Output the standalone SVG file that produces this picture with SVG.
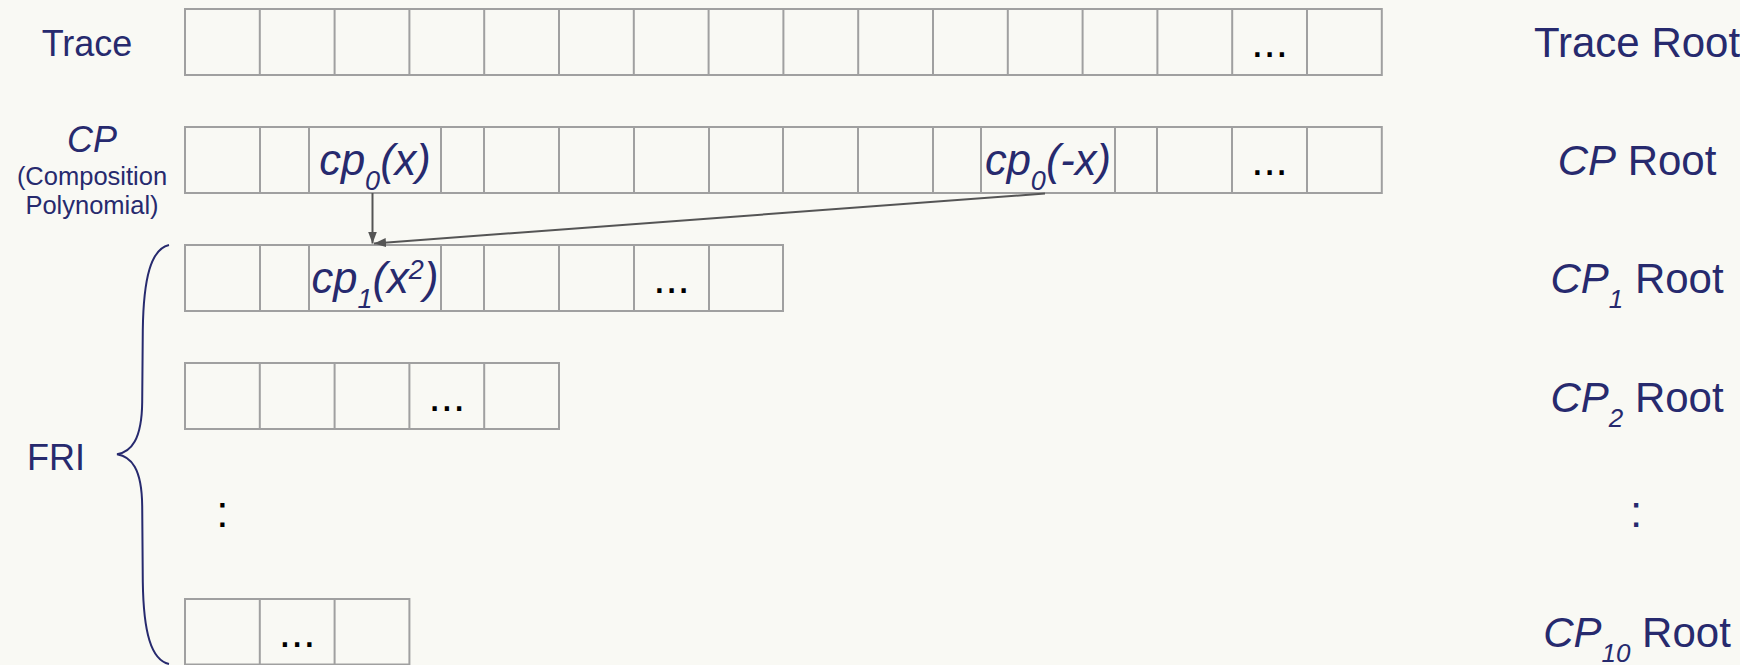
<svg xmlns="http://www.w3.org/2000/svg" width="1740" height="665" viewBox="0 0 1740 665">
  <defs>
    <style>
      .bg { fill: #f9f9f4; }
      .cell { fill: none; stroke: #a0a0a0; stroke-width: 2; }
      .lbl { font-family: "Liberation Sans", Arial, sans-serif; fill: #272a6e; }
      .dots { font-family: "Liberation Sans", Arial, sans-serif; fill: #000; font-size: 44px; text-anchor: middle; }
      .colon { font-family: "Liberation Sans", Arial, sans-serif; font-size: 44px; text-anchor: middle; }
      .it { font-style: italic; }
      .big { font-size: 42px; text-anchor: middle; }
      .cl { font-size: 43.5px; text-anchor: middle; font-style: italic; }
      .mid { font-size: 36px; text-anchor: middle; }
      .small { font-size: 25.5px; text-anchor: middle; }
      .conn { fill: none; stroke: #555555; stroke-width: 2; }
      .brace { fill: none; stroke: #272a6e; stroke-width: 2; }
    </style>
    <marker id="arrow" markerUnits="userSpaceOnUse" markerWidth="14" markerHeight="10" refX="12" refY="4.5" orient="auto">
      <path d="M0,0 L12,4.5 L0,9 z" fill="#555555"/>
    </marker>
  </defs>
  <rect class="bg" x="0" y="0" width="1740" height="665"/>

  <!-- Left labels -->
  <g id="label-trace">
    <text class="lbl mid" x="87" y="56">Trace</text>
  </g>
  <g id="label-cp">
    <text class="lbl mid it" x="92" y="152">CP</text>
    <text class="lbl small" x="92" y="185">(Composition</text>
    <text class="lbl small" x="92" y="214">Polynomial)</text>
  </g>
  <g id="label-fri">
    <text class="lbl mid" x="56" y="470">FRI</text>
    <path class="brace" d="M169,245 C151,249 143.5,278 142.8,330 L142.2,402 C141.8,440 131,452 117,454.3 C131,456.6 141.8,468 142.2,506 L142.8,582 C143.5,632 151,660 169,664"/>
  </g>

  <!-- Trace row -->
  <g id="row-trace">
    <rect class="cell" x="185" y="9" width="1196.8" height="66"/>
    <path class="cell" d="M259.8,9V75 M334.6,9V75 M409.4,9V75 M484.2,9V75 M559,9V75 M633.8,9V75 M708.6,9V75 M783.4,9V75 M858.2,9V75 M933,9V75 M1007.8,9V75 M1082.6,9V75 M1157.4,9V75 M1232.2,9V75 M1307,9V75"/>
    <text class="dots" x="1269.6" y="57">...</text>
  </g>

  <!-- CP row -->
  <g id="row-cp">
    <rect class="cell" x="185" y="127" width="1196.8" height="66"/>
    <path class="cell" d="M260,127V193 M309,127V193 M441,127V193 M484,127V193 M559,127V193 M634,127V193 M709,127V193 M783,127V193 M858,127V193 M933,127V193 M981,127V193 M1115,127V193 M1157,127V193 M1232,127V193 M1307,127V193"/>
    <text class="lbl cl" x="375" y="175">cp<tspan font-size="27" dy="15">0</tspan><tspan dy="-15">(x)</tspan></text>
    <text class="lbl cl" x="1048" y="175">cp<tspan font-size="27" dy="15">0</tspan><tspan dy="-15">(-x)</tspan></text>
    <text class="dots" x="1269.5" y="175">...</text>
  </g>

  <!-- CP1 row -->
  <g id="row-cp1">
    <rect class="cell" x="185" y="245" width="598" height="66"/>
    <path class="cell" d="M260,245V311 M309,245V311 M441,245V311 M484,245V311 M559,245V311 M634,245V311 M709,245V311"/>
    <text class="lbl cl" x="375" y="293">cp<tspan font-size="27" dy="15">1</tspan><tspan dy="-15">(x</tspan><tspan font-size="27" dy="-14">2</tspan><tspan dy="14">)</tspan></text>
    <text class="dots" x="671.5" y="293">...</text>
  </g>

  <!-- CP2 row -->
  <g id="row-cp2">
    <rect class="cell" x="185" y="363" width="374" height="66"/>
    <path class="cell" d="M259.8,363V429 M334.6,363V429 M409.4,363V429 M484.2,363V429"/>
    <text class="dots" x="446.8" y="411">...</text>
  </g>

  <g id="ellipsis-left">
    <text class="colon" x="222.3" y="527" fill="#000">:</text>
  </g>

  <!-- CP10 row -->
  <g id="row-cp10">
    <rect class="cell" x="185" y="599" width="224.4" height="65.5"/>
    <path class="cell" d="M259.8,599V665 M334.6,599V665"/>
    <text class="dots" x="297.2" y="647">...</text>
  </g>

  <!-- Right labels -->
  <g id="root-trace">
    <text class="lbl big" x="1637" y="57">Trace Root</text>
  </g>
  <g id="root-cp">
    <text class="lbl big" x="1637" y="175"><tspan class="it">CP</tspan> Root</text>
  </g>
  <g id="root-cp1">
    <text class="lbl big" x="1637" y="293"><tspan class="it">CP</tspan><tspan class="it" font-size="26" dy="15">1</tspan><tspan dy="-15"> Root</tspan></text>
  </g>
  <g id="root-cp2">
    <text class="lbl big" x="1637" y="411.7"><tspan class="it">CP</tspan><tspan class="it" font-size="26" dy="15">2</tspan><tspan dy="-15"> Root</tspan></text>
  </g>
  <g id="root-ellipsis">
    <text class="colon" x="1636" y="527" fill="#272a6e">:</text>
  </g>
  <g id="root-cp10">
    <text class="lbl big" x="1637" y="646.7"><tspan class="it">CP</tspan><tspan class="it" font-size="26" dy="15">10</tspan><tspan dy="-15"> Root</tspan></text>
  </g>

  <!-- Connectors -->
  <g id="connectors">
    <line class="conn" x1="372.5" y1="193" x2="372.5" y2="243.5" marker-end="url(#arrow)"/>
    <line class="conn" x1="1045" y1="193.5" x2="374" y2="243.5" marker-end="url(#arrow)"/>
  </g>
</svg>
